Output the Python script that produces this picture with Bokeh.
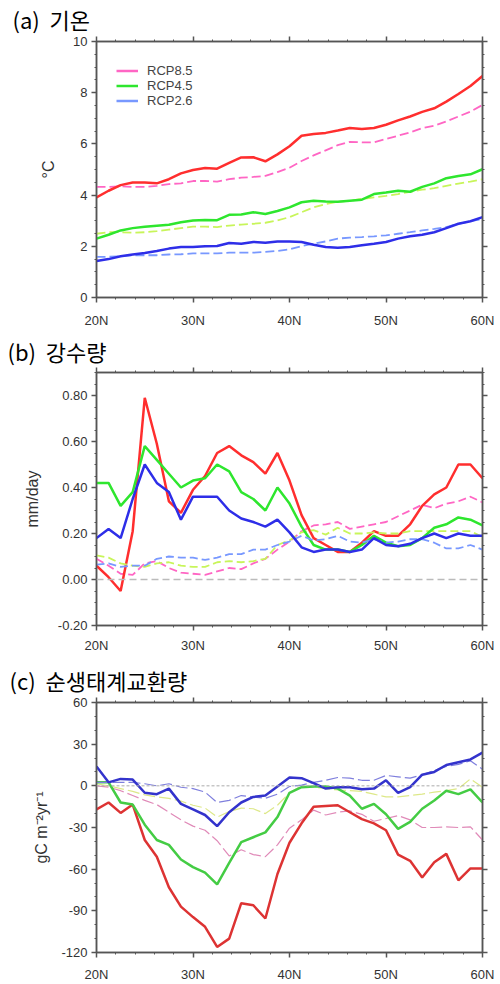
from bokeh.plotting import figure
from bokeh.layouts import column
from bokeh.models import (FixedTicker, LinearAxis, Span, Title, Legend, LegendItem,
                          ColumnDataSource, CustomLabelingPolicy)
from bokeh.embed import file_html
from bokeh.resources import INLINE

# Latitude grid (1.25 degree spacing, 20N-60N)
lat = [20 + 1.25 * i for i in range(33)]

# (a) surface air temperature change, degC
temp_rcp85 = [3.91, 4.17, 4.39, 4.49, 4.49, 4.46, 4.62, 4.85, 4.98, 5.06, 5.03, 5.26, 5.47,
              5.48, 5.32, 5.59, 5.91, 6.32, 6.39, 6.43, 6.52, 6.62, 6.58, 6.62, 6.75, 6.92,
              7.07, 7.25, 7.39, 7.65, 7.95, 8.26, 8.65]
temp_rcp85_b = [4.32, 4.32, 4.34, 4.32, 4.32, 4.36, 4.43, 4.46, 4.55, 4.55, 4.53, 4.62, 4.68,
                4.71, 4.75, 4.90, 5.07, 5.33, 5.55, 5.75, 5.95, 6.08, 6.06, 6.06, 6.19, 6.32,
                6.45, 6.62, 6.71, 6.88, 7.07, 7.26, 7.52]
temp_rcp45 = [2.30, 2.45, 2.62, 2.71, 2.76, 2.80, 2.84, 2.94, 3.01, 3.03, 3.02, 3.23, 3.24,
              3.33, 3.26, 3.38, 3.52, 3.72, 3.78, 3.75, 3.74, 3.78, 3.82, 4.04, 4.10, 4.17,
              4.13, 4.32, 4.46, 4.66, 4.75, 4.81, 5.01]
temp_rcp45_b = [2.49, 2.55, 2.55, 2.53, 2.55, 2.59, 2.65, 2.71, 2.77, 2.77, 2.75, 2.81, 2.85,
                2.88, 2.92, 3.01, 3.14, 3.33, 3.52, 3.65, 3.74, 3.78, 3.85, 3.91, 3.97, 4.04,
                4.13, 4.21, 4.27, 4.36, 4.45, 4.53, 4.62]
temp_rcp26 = [1.43, 1.50, 1.61, 1.68, 1.74, 1.82, 1.91, 1.97, 1.97, 2.00, 2.01, 2.13, 2.10,
              2.17, 2.14, 2.19, 2.19, 2.17, 2.06, 1.97, 1.94, 1.97, 2.04, 2.10, 2.17, 2.30,
              2.39, 2.45, 2.55, 2.71, 2.88, 2.98, 3.14]
temp_rcp26_b = [1.59, 1.59, 1.61, 1.65, 1.65, 1.65, 1.68, 1.69, 1.72, 1.72, 1.72, 1.75, 1.75,
                1.75, 1.78, 1.82, 1.88, 2.01, 2.10, 2.19, 2.30, 2.34, 2.36, 2.39, 2.43, 2.49,
                2.55, 2.62, 2.68, 2.75, 2.88, 2.98, 3.07]

# (b) precipitation change, mm/day
prec_rcp85 = [0.06, 0.01, -0.05, 0.21, 0.79, 0.59, 0.34, 0.29, 0.39, 0.45, 0.55, 0.58, 0.54,
              0.51, 0.46, 0.55, 0.43, 0.28, 0.18, 0.15, 0.12, 0.12, 0.16, 0.21, 0.19, 0.19,
              0.24, 0.32, 0.37, 0.40, 0.50, 0.50, 0.44]
prec_rcp85_b = [0.09, 0.06, 0.025, 0.02, 0.07, 0.08, 0.05, 0.03, 0.025, 0.02, 0.035, 0.05,
                0.045, 0.07, 0.09, 0.13, 0.165, 0.21, 0.235, 0.24, 0.25, 0.22, 0.23, 0.24,
                0.25, 0.275, 0.30, 0.325, 0.31, 0.33, 0.34, 0.36, 0.335]
prec_rcp45 = [0.42, 0.42, 0.32, 0.38, 0.58, 0.52, 0.46, 0.40, 0.43, 0.44, 0.50, 0.47, 0.38,
              0.35, 0.30, 0.40, 0.33, 0.23, 0.15, 0.13, 0.13, 0.12, 0.15, 0.19, 0.16, 0.145,
              0.15, 0.18, 0.225, 0.24, 0.27, 0.26, 0.235]
prec_rcp45_b = [0.105, 0.095, 0.07, 0.06, 0.055, 0.07, 0.075, 0.06, 0.055, 0.055, 0.075, 0.08,
                0.075, 0.08, 0.09, 0.15, 0.17, 0.205, 0.215, 0.195, 0.225, 0.20, 0.20, 0.205,
                0.20, 0.20, 0.21, 0.21, 0.21, 0.21, 0.21, 0.21, 0.185]
prec_rcp26 = [0.18, 0.22, 0.18, 0.35, 0.50, 0.42, 0.38, 0.26, 0.36, 0.36, 0.36, 0.30, 0.265,
              0.25, 0.23, 0.26, 0.205, 0.14, 0.12, 0.13, 0.13, 0.12, 0.13, 0.18, 0.15, 0.145,
              0.155, 0.18, 0.20, 0.18, 0.20, 0.19, 0.19]
prec_rcp26_b = [0.065, 0.07, 0.055, 0.06, 0.06, 0.09, 0.10, 0.095, 0.095, 0.085, 0.095, 0.11,
                0.11, 0.13, 0.13, 0.15, 0.165, 0.19, 0.17, 0.175, 0.19, 0.165, 0.16, 0.175,
                0.16, 0.165, 0.175, 0.175, 0.16, 0.135, 0.135, 0.15, 0.13]

# (c) net ecosystem exchange change, gC m-2 yr-1
nee_rcp85 = [-17, -12, -19.5, -13.5, -39, -51, -73, -87, -94.5, -101.5, -116, -110, -84.5,
             -86, -95.5, -63.5, -41, -27, -15, -14.5, -14, -19, -24, -27, -32, -49.5, -54,
             -66, -55, -49, -68, -59.5, -59.5]
nee_rcp85_b = [0, -1, -3.5, -7, -10.5, -13.5, -19, -24.5, -29, -32, -39.5, -50.5, -46, -49.5,
               -51, -42.5, -30.5, -24.5, -17.5, -21, -19, -18, -20.5, -25.5, -23.5, -21.5,
               -24.5, -30, -30, -29.5, -30, -29.5, -39]
nee_rcp45 = [2.5, 2.5, -12, -13.5, -28, -39, -42.5, -53, -58.5, -62.5, -71, -55.5, -40.5,
             -37, -33.5, -22.5, -5, -1, -0.5, -0.5, -2, -7, -16.5, -13, -20.5, -31, -26,
             -16.5, -10.5, -3.5, -6, -2.5, -12]
nee_rcp45_b = [1.5, 0, -2, -4, -6.5, -8, -9, -11, -14, -16, -22.5, -18.5, -16, -16.5, -20,
               -14, -5, 0, -1, -2, -3, -3.5, -4, -6, -8, -8, -7, -6, -4.5, -3.5, -2, 5, -1]
nee_rcp26 = [14, 2.5, 5, 4.5, -5, -6, -2, -13, -17, -21, -29, -19, -12, -8, -7, -0.5, 6,
             5.5, 2, -2, -1, -1, -2.5, -2, 4, -5, -1, 8, 10, 15, 17, 19, 24]
nee_rcp26_b = [2.5, 2.5, 2.5, 2.5, 1.5, 0, 1.5, -1, -2, -4.5, -12, -10.5, -7, -8, -9, -6,
               -0.5, 0.5, 2.5, 4, 6, 5.5, 4, 4, 7.5, 6.5, 5.5, 8, 11, 14, 15.5, 18, 12]

scenarios = ["RCP8.5", "RCP4.5", "RCP2.6"]
lat_ticks = [20, 30, 40, 50, 60]
lat_labels = ["20N", "30N", "40N", "50N", "60N"]
lat_minor = [20 + 2 * i for i in range(21)]

TICK_FONT = "Liberation Sans"
KR_FONT = "Noto Sans CJK KR"
FRAME = "#555555"
TEXT = "#333333"

# drops every tick label (used for the tick-only axes on the top and right)
NO_LABELS = CustomLabelingPolicy(code="""
    for (const i of Array.from(indices)) {
        indices.unset(i)
    }
    return indices
""")


def style_axis(ax, label_size="13px"):
    ax.axis_line_color = FRAME
    ax.axis_line_width = 1.5
    ax.major_tick_line_color = FRAME
    ax.minor_tick_line_color = FRAME
    ax.major_tick_line_width = 1.5
    ax.major_tick_out = 5
    ax.major_tick_in = 0
    ax.minor_tick_out = 2
    ax.minor_tick_in = 0
    ax.major_label_text_font = TICK_FONT
    ax.major_label_text_color = TEXT
    ax.major_label_text_font_size = label_size


def make_panel(title, height, top, bottom, left, frame_left, yrange, yticks, yminor,
               ylabels, ylabel, ylabel_size, xstand, ylabel_stand, title_gap):
    p = figure(width=500, height=height, x_range=(20, 60), y_range=yrange,
               output_backend="svg", toolbar_location=None,
               x_axis_location=None, y_axis_location=None,
               min_border_left=left, min_border_right=18,
               min_border_top=top, min_border_bottom=bottom)
    p.grid.visible = False
    p.outline_line_color = FRAME
    p.outline_line_width = 1.5

    xb = LinearAxis(ticker=FixedTicker(ticks=lat_ticks, minor_ticks=lat_minor),
                    major_label_overrides=dict(zip(lat_ticks, lat_labels)),
                    major_label_standoff=xstand)
    yl = LinearAxis(ticker=FixedTicker(ticks=yticks, minor_ticks=yminor),
                    major_label_overrides=dict(zip(yticks, ylabels)),
                    major_label_standoff=4, axis_label=ylabel,
                    axis_label_standoff=ylabel_stand,
                    axis_label_text_font=TICK_FONT,
                    axis_label_text_font_size=ylabel_size,
                    axis_label_text_font_style="normal",
                    axis_label_text_color=TEXT)
    xt = LinearAxis(ticker=FixedTicker(ticks=lat_ticks, minor_ticks=lat_minor),
                    major_label_policy=NO_LABELS, major_label_standoff=0)
    yr = LinearAxis(ticker=FixedTicker(ticks=yticks, minor_ticks=yminor),
                    major_label_policy=NO_LABELS, major_label_standoff=0)
    style_axis(xb)
    style_axis(yl)
    style_axis(xt, "1px")
    style_axis(yr, "1px")
    p.add_layout(xb, "below")
    p.add_layout(yl, "left")
    p.add_layout(xt, "above")
    p.add_layout(yr, "right")

    p.title = Title(text=title, align="left", offset=-(frame_left - 12),
                    text_font=KR_FONT, text_font_size="22px",
                    text_font_style="normal", text_color="black",
                    standoff=title_gap)
    return p


def add_lines(p, series, colors, solid_w, dash_w, dash):
    for (ys, ys_b), (c_solid, c_dash) in zip(series, colors):
        src = ColumnDataSource(dict(lat=lat, v=ys, b=ys_b))
        p.line("lat", "b", source=src, line_color=c_dash, line_width=dash_w,
               line_dash=dash)
        p.line("lat", "v", source=src, line_color=c_solid, line_width=solid_w)


GAP = "\u00a0"

# ---- (a) temperature ----
a_ticks = [0, 2, 4, 6, 8, 10]
pa = make_panel("(a)" + GAP + " 기온", 330, 41, 31, 91, 96, (0, 10), a_ticks,
                [0.5 * i for i in range(21)], [str(t) for t in a_ticks],
                "°C", "16px", 10, 13, -4)
colors_ab = [("#ff2e2e", "#ff66c4"), ("#2ee62e", "#c8f55a"), ("#2e2ee8", "#7898ff")]
add_lines(pa, [(temp_rcp85, temp_rcp85_b), (temp_rcp45, temp_rcp45_b),
               (temp_rcp26, temp_rcp26_b)], colors_ab, 2.5, 1.8, "9 4")

# legend entries for the scenario colours (key-only renderers, nothing drawn in the frame)
legend_colors = ["#ff66c4", "#2ee62e", "#7898ff"]
items = []
for name, c in zip(scenarios, legend_colors):
    r = pa.line(x=[lat[0]], y=[float("nan")], line_color=c, line_width=2.5)
    items.append(LegendItem(label=name, renderers=[r]))
leg = Legend(items=items, location=(20, 189), glyph_width=22, glyph_height=15,
             label_height=15, label_standoff=9, spacing=0, padding=0, margin=0,
             label_text_font=TICK_FONT, label_text_font_size="13px",
             label_text_color="#444444", background_fill_alpha=0,
             border_line_alpha=0)
pa.add_layout(leg, "center")

# ---- (b) precipitation ----
b_ticks = [-0.2, 0.0, 0.2, 0.4, 0.6, 0.8]
pb = make_panel("(b)" + GAP + " 강수량", 325, 42, 27, 96, 101, (-0.2, 0.9), b_ticks,
                [round(-0.2 + 0.05 * i, 2) for i in range(23)],
                ["{:.2f}".format(t) for t in b_ticks], "mm/day", "16px", 7, 14, -7)
pb.add_layout(Span(location=0, dimension="width", line_color="#bbbbbb",
                   line_width=1.5, line_dash="7 4"))
add_lines(pb, [(prec_rcp85, prec_rcp85_b), (prec_rcp45, prec_rcp45_b),
               (prec_rcp26, prec_rcp26_b)], colors_ab, 2.5, 1.8, "8 4")

# ---- (c) net ecosystem exchange ----
c_ticks = [-120, -90, -60, -30, 0, 30, 60]
pc = make_panel("(c)" + GAP + " 순생태계교환량", 329, 47, 28, 94, 99, (-120, 60), c_ticks,
                [-120 + 10 * i for i in range(19)], [str(t) for t in c_ticks],
                "gC m⁻²yr⁻¹", "16px", 9, 8, -5)
pc.add_layout(Span(location=0, dimension="width", line_color="#aaaaaa",
                   line_width=1, line_dash="3 2"))
colors_c = [("#dd3333", "#e08ab8"), ("#44cc44", "#dde888"), ("#3333cc", "#7f7fdd")]
add_lines(pc, [(nee_rcp85, nee_rcp85_b), (nee_rcp45, nee_rcp45_b),
               (nee_rcp26, nee_rcp26_b)], colors_c, 2.5, 1.2, "12 4")

layout = column(pa, pb, pc, spacing=0)
open("out.html", "w").write(file_html(layout, INLINE))
